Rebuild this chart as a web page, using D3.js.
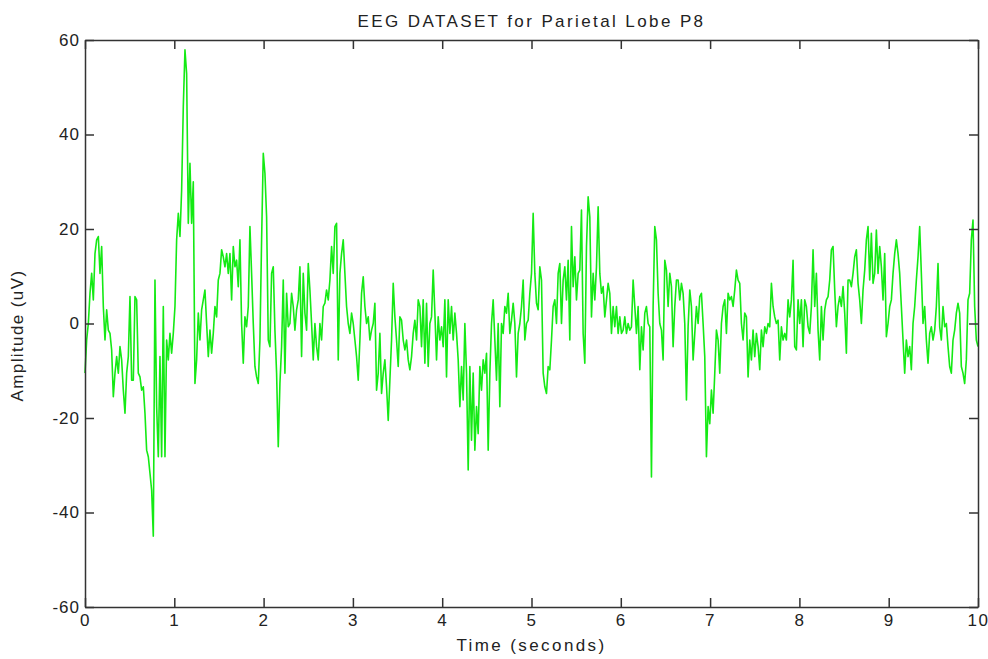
<!DOCTYPE html>
<html>
<head>
<meta charset="utf-8">
<script src="https://cdn.jsdelivr.net/npm/d3@7"></script>
<style>
  body { margin: 0; background: #fff; }
  #chart text { font-family: "Liberation Sans", Arial, Helvetica, sans-serif; fill: #222; }
</style>
</head>
<body>
<div id="chart"></div>
<script>
const seg1 = [-10.5, -3.5, 0, 6.4, 10.6, 5.0, 14.8, 17.7, 18.4, 10.6, 16.3, 3.6, -3.5, 2.9, -1.4, -2.1, -5.6, -15.5, -10.5, -7.0,
  -10.5, -4.9, -7.7, -14.1, -19.0, -10.5, -7.0, 5.7, -12.0, -12.0, 5.7, 5.0, -10.5, -11.3, -14.1, -13.4, -19.0, -26.8, -28.2, -31.7,
  -35.3, -45.0, 9.2, -17.6, -28.2, -7.0, -28.2, 3.6, -28.2, -3.5, -7.7, -2.1, -6.3, -2.1, 3.6, 17.7, 23.3, 18.4, 28.2, 45.9,
  57.9, 52.9, 21.2];
const seg2 = [33.9, 21.2, 30.0, -12.7, -7.7, 2.2, -3.5, 2.9, 5.0, 7.1, 0, -7.0, -1.4, -6.3, -2.1, 3.6, 1.4, 9.2, 10.6, 15.6,
  14.1, 12.0, 14.8, 10.6, 14.8, 5.0, 16.3, 12.0, 13.4, 7.8, 17.7, 0, -8.4, 1.4, -0.7, 3.6, 20.5, 10.6, 0, -9.1,
  -11.3, -12.7, -3.5, 17.7, 36.0, 31.8, 22.6, -3.5, -4.9, 10.6, 12.0, -1.4, -10.5, -26.1, -12.7, -4.9, 9.2, -10.5, 6.4, -0.7,
  0, 6.4, 3.6, -1.4, 2.9, 5.0];
const seg3 = [12.0, -7.0, 10.6, 2.2, -1.4, 12.7, 7.1, 0, -7.7, 0, -4.9, -7.7, 0, -3.5, 3.6, 4.3, 7.1, 5.0, 9.2, 16.3,
  10.6, 20.5, 21.2, -7.7, 10.6, 14.8, 17.7, 10.6, 3.6, 0, -2.1, 2.2, 0, -3.5, -7.0, -12.0, -3.5, 6.4, 9.9, 3.6,
  0, 1.4, -3.5, -1.4, 0, 4.3, -14.1, -10.5, -2.1, -14.8, -10.5, -7.7, -13.4, -20.5, -12.0, -3.5, 8.5, 1.4, -3.5, -9.1,
  1.4, 0.7, -3.5, -5.6, -3.5, -7.7];
const seg4 = [-9.8, -7.0, -2.1, 0.7, -3.5, 5.0, 3.6, -4.9, 5.0, -8.4, 4.3, -9.1, 0, 1.4, 11.3, 2.2, -7.7, 1.4, -3.5, -0.7,
  -4.9, 5.0, -11.3, 5.0, -2.1, 3.6, -3.5, 2.2, -2.1, -7.7, -17.6, -9.1, -16.2, 0, -10.5, -31.0, -9.1, -24.7, -10.5, -26.8,
  -17.6, -23.3, -9.1, -14.1, -7.7, -10.5, -6.3, -26.8, -10.5, 0, 5.0, -3.5, -12.0, 0, -17.6, 0, -2.1, 3.6, 2.2, 6.4,
  -2.1, 0.7, 4.3, 0, -11.3, -2.1];
const seg5 = [0, 3.6, 9.2, -3.5, 0, 0.7, 6.4, 10.6, 23.3, 10.6, 4.3, 2.9, 12.0, 9.2, -10.5, -13.4, -14.8, -9.1, -9.8, -3.5,
  3.6, 5.0, 0, 10.6, 12.7, 0, 9.2, 12.0, 5.0, 13.4, -3.5, 20.5, 7.8, 14.1, 5.0, 10.6, 11.3, 24.0, -2.1, -8.4,
  16.3, 26.8, 22.6, 1.4, 10.6, 5.0, 12.0, 24.7, 10.6, 6.4, 7.8, 1.4, 5.0, 8.5, 6.4, -2.1, 3.6, -0.7, 3.6, -2.1,
  1.4, -2.1, -1.4, 1.4, -2.1, 0];
const seg6 = [-1.4, -0.7, 9.2, 3.6, -2.1, 3.6, -9.8, -0.7, -5.6, 2.2, 3.6, 0, -0.7, -32.5, 3.6, 20.5, 17.7, 6.4, 0, -1.4,
  -7.7, 13.4, 11.3, 3.6, 10.6, 7.8, -4.9, 3.6, 9.2, 9.2, 5.0, 8.5, 6.4, 0, -16.2, -0.7, 7.1, 3.6, -7.7, -2.1,
  3.6, 0, 5.7, 6.4, 0, -7.0, -28.2, -17.6, -21.2, -14.1, -19.0, -10.5, -1.4, -3.5, -10.5, 0, 3.6, 5.0, -2.1, 6.4,
  5.0, 5.7, 3.6, 7.1, 11.3, 9.2];
const seg7 = [8.5, 0, -3.5, 2.2, 1.4, -11.3, -3.5, -7.7, -1.4, -7.0, -2.1, -4.9, -9.8, -1.4, -4.9, -0.7, -2.1, 0, -0.7, 8.5,
  3.6, 1.4, 0, 0.7, -7.7, -0.7, -3.5, -2.1, -3.5, 5.0, 1.4, 5.0, 13.4, -4.9, -5.6, 5.0, 0, 5.0, -4.9, 5.0,
  3.6, -0.7, -2.1, 3.6, 15.6, 3.6, 10.6, -1.4, -7.7, 3.6, -3.5, 2.9, 5.0, 5.7, 9.2, 15.6, 16.3, 7.1, -0.7, 3.6,
  5.7, 3.6, 7.8, 2.2, -6.3, 9.2];
const seg8 = [9.2, 7.8, 10.6, 14.1, 15.6, 8.5, 5.0, 0, 7.1, 11.3, 17.7, 20.5, 9.2, 19.1, 8.5, 10.6, 19.8, 10.6, 16.3, 12.0,
  5.0, 14.8, -2.8, 0, 3.6, 5.0, 10.6, 14.8, 17.7, 14.8, 10.6, 3.6, -3.5, -10.5, -3.5, -7.0, -4.9, -9.8, 0, 3.6,
  9.2, 14.1, 20.5, 10.6, 0, 3.6, -3.5, -8.4, -2.1, -0.7, -3.5, -1.4, 3.6, 12.7, -0.7, -3.5, 3.6, -0.7, 0, -4.9,
  -9.1, -10.5, -3.5, -1.4, 2.2, 4.3, 2.2, -9.1, -10.5, -12.7, -7.7, 5.0, 6.4, 17.7, 21.9, 3.6, -3.5, -4.9];

const xTicks = [0, 1, 2, 3, 4, 5, 6, 7, 8, 9, 10];
const yTicks = [-60, -40, -20, 0, 20, 40, 60];
const duration = 10;

const title = 'EEG DATASET for Parietal Lobe P8';
const xLabel = 'Time (seconds)';
const yLabel = 'Amplitude (uV)';

const amplitude = [].concat(seg1, seg2, seg3, seg4, seg5, seg6, seg7, seg8);
const data = amplitude.map((v, i) => ({ t: i * duration / (amplitude.length - 1), v: v }));

const margin = { top: 40, right: 10, bottom: 52, left: 85 };
const width = 988 - margin.left - margin.right;
const height = 659 - margin.top - margin.bottom;

const svg = d3.select('#chart').append('svg')
  .attr('width', 988)
  .attr('height', 659)
  .append('g')
  .attr('transform', `translate(${margin.left},${margin.top})`);

// Scales
const x = d3.scaleLinear().domain([0, duration]).range([0, width]);
const y = d3.scaleLinear().domain([-60, 60]).range([height, 0]);

// Signal
const line = d3.line()
  .x(d => x(d.t))
  .y(d => y(d.v));

svg.append('path')
  .datum(data)
  .attr('fill', 'none')
  .attr('stroke', '#14ea14')
  .attr('stroke-width', 1.6)
  .attr('stroke-linejoin', 'round')
  .attr('d', line);

// Axes - ticks point inward on every side of the box (plain hyphen minus, as in the original)
const tick = 9;
const plain = d => String(d);

const gx = svg.append('g')
  .attr('transform', `translate(0,${height})`)
  .call(d3.axisBottom(x).tickValues(xTicks).tickSizeInner(-tick).tickSizeOuter(0).tickPadding(7).tickFormat(plain));

const gy = svg.append('g')
  .call(d3.axisLeft(y).tickValues(yTicks).tickSizeInner(-tick).tickSizeOuter(0).tickPadding(5).tickFormat(plain));

svg.append('g')
  .call(d3.axisTop(x).tickValues(xTicks).tickSizeInner(-tick).tickSizeOuter(0).tickFormat(''));

svg.append('g')
  .attr('transform', `translate(${width},0)`)
  .call(d3.axisRight(y).tickValues(yTicks).tickSizeInner(-tick).tickSizeOuter(0).tickFormat(''));

svg.selectAll('.domain').attr('stroke', '#333').attr('stroke-width', 1.5);
svg.selectAll('.tick line').attr('stroke', '#333').attr('stroke-width', 1.5);

gx.selectAll('text').style('font-size', '17px').style('letter-spacing', '1.5px');
gy.selectAll('text').style('font-size', '17px').style('letter-spacing', '1px');

// Title and labels
svg.append('text')
  .attr('x', width / 2)
  .attr('y', -13)
  .attr('text-anchor', 'middle')
  .style('font-size', '17px')
  .style('letter-spacing', '2.4px')
  .text(title);

svg.append('text')
  .attr('x', width / 2)
  .attr('y', height + 44)
  .attr('text-anchor', 'middle')
  .style('font-size', '17px')
  .style('letter-spacing', '2.4px')
  .text(xLabel);

svg.append('text')
  .attr('transform', `translate(${-62},${height / 2 + 12}) rotate(-90)`)
  .attr('text-anchor', 'middle')
  .style('font-size', '17px')
  .style('letter-spacing', '1.4px')
  .text(yLabel);
</script>
</body>
</html>
